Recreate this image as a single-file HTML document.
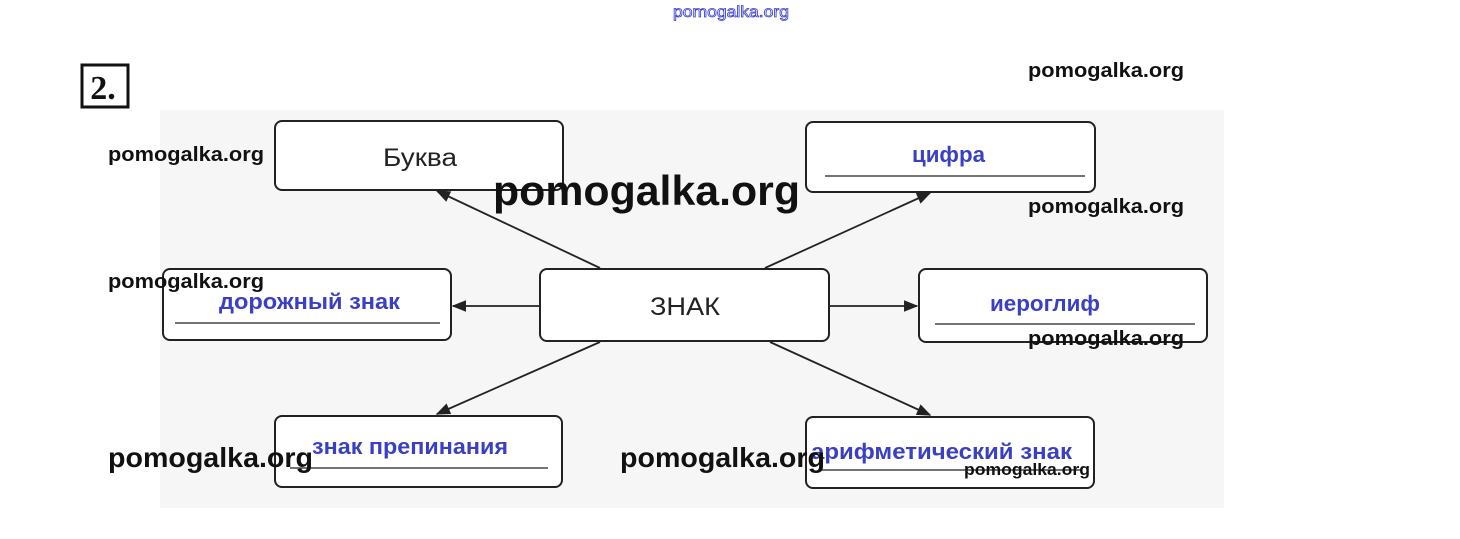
<!DOCTYPE html>
<html><head><meta charset="utf-8"><style>
html,body{margin:0;padding:0;background:#fff;}
svg{display:block}
.w{font-family:"Liberation Sans",sans-serif;font-weight:bold;fill:#111}
.b{font-family:"Liberation Sans",sans-serif;font-weight:bold;fill:#3a3fc4;font-size:22px}
</style></head><body>
<svg width="1460" height="539" viewBox="0 0 1460 539" xmlns="http://www.w3.org/2000/svg">
<defs><marker id="a" viewBox="0 0 10 10" refX="9" refY="5" markerWidth="10" markerHeight="8" orient="auto"><path d="M0,1 L10,5 L0,9 Z" fill="#222"/></marker></defs>
<rect x="160" y="110" width="1064" height="398" fill="#f6f6f6"/>
<text x="673" y="17" textLength="116" lengthAdjust="spacingAndGlyphs" font-family="Liberation Sans,sans-serif" font-size="16" fill="none" stroke="#3a3fd0" stroke-width="0.8">pomogalka.org</text>
<rect x="82" y="65" width="46" height="42" fill="#fff" stroke="#111" stroke-width="3"/>
<text x="103" y="99" text-anchor="middle" font-family="Liberation Serif,serif" font-weight="bold" font-size="34" fill="#111">2.</text>
<g fill="#fff" stroke="#222" stroke-width="2">
<rect x="275" y="121" width="288" height="69" rx="7"/>
<rect x="806" y="122" width="289" height="70" rx="7"/>
<rect x="163" y="269" width="288" height="71" rx="7"/>
<rect x="540" y="269" width="289" height="72" rx="7"/>
<rect x="919" y="269" width="288" height="73" rx="7"/>
<rect x="275" y="416" width="287" height="71" rx="7"/>
<rect x="806" y="417" width="288" height="71" rx="7"/>
</g>
<g stroke="#222" stroke-width="1.2">
<line x1="825" y1="176" x2="1085" y2="176"/>
<line x1="175" y1="323" x2="440" y2="323"/>
<line x1="935" y1="324" x2="1195" y2="324"/>
<line x1="290" y1="468" x2="548" y2="468"/>
<line x1="820" y1="470" x2="1082" y2="470"/>
</g>
<g stroke="#222" stroke-width="1.8" marker-end="url(#a)">
<line x1="600" y1="268" x2="437" y2="191"/>
<line x1="765" y1="268" x2="930" y2="193"/>
<line x1="539" y1="306" x2="453" y2="306"/>
<line x1="830" y1="306" x2="917" y2="306"/>
<line x1="600" y1="342" x2="437" y2="414"/>
<line x1="770" y1="342" x2="930" y2="415"/>
</g>
<text x="383" y="166" textLength="74" lengthAdjust="spacingAndGlyphs" font-family="Liberation Sans,sans-serif" font-size="25" fill="#222">Буква</text>
<text x="650" y="315" textLength="70" lengthAdjust="spacingAndGlyphs" font-family="Liberation Sans,sans-serif" font-size="25" fill="#222">ЗНАК</text>
<text class="b" x="912" y="162" textLength="73" lengthAdjust="spacingAndGlyphs">цифра</text>
<text class="b" x="219" y="309" textLength="181" lengthAdjust="spacingAndGlyphs">дорожный знак</text>
<text class="b" x="990" y="311" textLength="110" lengthAdjust="spacingAndGlyphs">иероглиф</text>
<text class="b" x="312" y="454" textLength="196" lengthAdjust="spacingAndGlyphs">знак препинания</text>
<text class="b" x="811" y="459" textLength="261" lengthAdjust="spacingAndGlyphs">арифметический знак</text>
<text class="w" x="1028" y="77" textLength="156" lengthAdjust="spacingAndGlyphs" font-size="20">pomogalka.org</text>
<text class="w" x="108" y="161" textLength="156" lengthAdjust="spacingAndGlyphs" font-size="20">pomogalka.org</text>
<text class="w" x="493" y="205" textLength="307" lengthAdjust="spacingAndGlyphs" font-size="42">pomogalka.org</text>
<text class="w" x="1028" y="213" textLength="156" lengthAdjust="spacingAndGlyphs" font-size="20">pomogalka.org</text>
<text class="w" x="108" y="288" textLength="156" lengthAdjust="spacingAndGlyphs" font-size="20">pomogalka.org</text>
<text class="w" x="1028" y="345" textLength="156" lengthAdjust="spacingAndGlyphs" font-size="20">pomogalka.org</text>
<text class="w" x="108" y="467" textLength="205" lengthAdjust="spacingAndGlyphs" font-size="28">pomogalka.org</text>
<text class="w" x="620" y="467" textLength="205" lengthAdjust="spacingAndGlyphs" font-size="28">pomogalka.org</text>
<text class="w" x="964" y="475" textLength="126" lengthAdjust="spacingAndGlyphs" font-size="17">pomogalka.org</text>
</svg>
</body></html>
